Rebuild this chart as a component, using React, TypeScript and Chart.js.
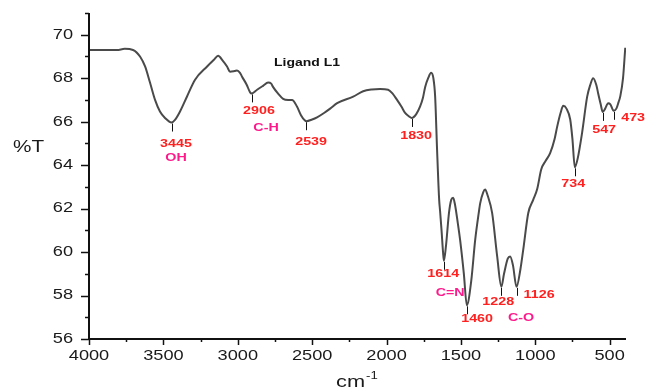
import React, { useEffect, useRef } from "react";
import { Chart, registerables } from "chart.js";

Chart.register(...registerables);

// ---- Data ----
const wavenumber = [
  4000, 3900, 3812, 3760, 3704, 3657, 3623, 3590, 3556, 3523, 3489, 3445, 3422, 3388, 3341, 3287, 3206, 3160, 3132,
  3100, 3072, 3052, 3020, 3005, 2985, 2971, 2940, 2917, 2906, 2870, 2830, 2796, 2775, 2763, 2730, 2695, 2660, 2635, 2602, 2575,
  2548, 2539, 2500, 2467, 2420, 2379, 2332, 2224, 2157, 2100, 2043, 1989, 1960, 1929, 1900, 1875, 1850, 1830, 1800, 1774,
  1755, 1740, 1720, 1700, 1685, 1673, 1660, 1646, 1640, 1630, 1620, 1614, 1600, 1580, 1565, 1552, 1540, 1520, 1505, 1480,
  1460, 1430, 1404, 1380, 1370, 1350, 1337, 1320, 1290, 1256, 1228, 1210, 1185, 1169, 1150, 1126, 1100, 1081, 1047, 1014,
  987, 960, 930, 900, 870, 853, 830, 812, 790, 765, 750, 734, 715, 685, 651, 630, 611, 590, 577, 560,
  547, 530, 510, 495, 473, 455, 440, 429, 410, 395,
];
const transmittance = [
  69.3, 69.3, 69.3, 69.35, 69.3, 69.0, 68.54, 67.8, 67.0, 66.47, 66.17, 65.96, 66.08, 66.47, 67.16, 67.93, 68.54, 68.85, 69.03,
  68.8, 68.54, 68.3, 68.33, 68.35, 68.25, 68.07, 67.7, 67.35, 67.3, 67.47, 67.65, 67.8, 67.75, 67.6, 67.3, 67.05, 67.0, 67.0, 66.7, 66.3,
  66.05, 66.02, 66.1, 66.2, 66.4, 66.6, 66.85, 67.15, 67.4, 67.48, 67.5, 67.47, 67.3, 67.0, 66.7, 66.4, 66.25, 66.17, 66.35, 66.7,
  67.1, 67.6, 68.0, 68.25, 68.0, 67.15, 64.7, 62.4, 61.9, 61.0, 60.0, 59.6, 60.3, 61.8, 62.4, 62.5, 62.2, 61.3, 60.55, 59.0,
  57.55, 58.7, 60.55, 61.8, 62.25, 62.75, 62.88, 62.6, 61.8, 59.8, 58.4, 59.0, 59.7, 59.8, 59.4, 58.4, 59.2, 60.1, 61.8, 62.4,
  62.9, 63.8, 64.2, 64.55, 65.2, 65.76, 66.4, 66.73, 66.6, 66.1, 65.2, 63.9, 64.3, 65.5, 67.15, 67.7, 68.0, 67.7, 67.3, 66.8,
  66.45, 66.6, 66.85, 66.8, 66.5, 66.6, 66.9, 67.15, 68.0, 69.4,
];

const peakWavenumbers = [3445, 2906, 2539, 1830, 1614, 1460, 1228, 1126, 734, 547, 473];

// annotation text: label, position (wavenumber, %T), kind
const labelTexts = ["3445", "OH", "2906", "C-H", "2539", "1830", "1614", "C=N", "1460", "1228", "1126", "C-O", "734", "547", "473"];
const labelX = [3415, 3415, 2857, 2810, 2507, 1801, 1619, 1572, 1391, 1249, 974, 1095, 745, 537, 342];
const labelY = [64.98, 64.33, 66.5, 65.71, 65.07, 65.32, 58.99, 58.11, 56.91, 57.7, 58.02, 56.98, 63.13, 65.6, 66.18];
const labelKind = ["num", "grp", "num", "grp", "num", "num", "num", "grp", "num", "num", "num", "grp", "num", "num", "num"];

const yTicks = [56, 58, 60, 62, 64, 66, 68, 70];
const xTicks = [4000, 3500, 3000, 2500, 2000, 1500, 1000, 500];

const FONT = "'Liberation Sans', Arial, sans-serif";
const STRETCH = 1.3;

function sText(
  ctx: CanvasRenderingContext2D,
  text: string,
  x: number,
  y: number,
  align: "left" | "center" | "right",
  font: string,
  color: string,
  sx = STRETCH
) {
  ctx.save();
  ctx.font = font;
  ctx.fillStyle = color;
  ctx.textBaseline = "middle";
  ctx.textAlign = "left";
  const w = ctx.measureText(text).width * sx;
  let left = x;
  if (align === "center") left = x - w / 2;
  else if (align === "right") left = x - w;
  ctx.translate(left, y);
  ctx.scale(sx, 1);
  ctx.fillText(text, 0, 0);
  ctx.restore();
}

function curveAt(xv: number) {
  for (let i = 0; i < wavenumber.length - 1; i++) {
    const a = wavenumber[i], b = wavenumber[i + 1];
    if (xv <= a && xv >= b) {
      const t = (a - xv) / (a - b);
      return transmittance[i] + t * (transmittance[i + 1] - transmittance[i]);
    }
  }
  return transmittance[transmittance.length - 1];
}

const irPlugin = {
  id: "irDecor",
  afterDraw(chart: any) {
    const { ctx, chartArea } = chart;
    const { left, right, top, bottom } = chartArea;
    const xs = chart.scales.x;
    const ys = chart.scales.y;
    ctx.save();
    // axes
    ctx.strokeStyle = "#111";
    ctx.lineWidth = 2;
    ctx.beginPath();
    ctx.moveTo(left, top);
    ctx.lineTo(left, bottom);
    ctx.lineTo(right, bottom);
    ctx.stroke();

    ctx.lineWidth = 1.5;
    // y ticks (major + minor)
    for (let v = 56; v <= 71; v++) {
      const py = Math.round(ys.getPixelForValue(v)) + 0.5;
      const len = v % 2 === 0 ? 8 : 4;
      ctx.beginPath();
      ctx.moveTo(left - len, py);
      ctx.lineTo(left, py);
      ctx.stroke();
    }
    yTicks.forEach((v) => {
      sText(ctx, String(v), left - 16, ys.getPixelForValue(v), "right", `14px ${FONT}`, "#1a1a1a");
    });
    // x ticks (major + minor)
    for (let v = 4000; v >= 500; v -= 250) {
      const px = Math.round(xs.getPixelForValue(v)) + 0.5;
      const len = v % 500 === 0 ? 6 : 3;
      ctx.beginPath();
      ctx.moveTo(px, bottom);
      ctx.lineTo(px, bottom + len);
      ctx.stroke();
    }
    xTicks.forEach((v) => {
      sText(ctx, String(v), xs.getPixelForValue(v), bottom + 17, "center", `14px ${FONT}`, "#1a1a1a");
    });

    // axis titles
    sText(ctx, "%T", 13, 147, "left", `17px ${FONT}`, "#1a1a1a", 1.22);
    sText(ctx, "cm", 336, 383, "left", `16px ${FONT}`, "#1a1a1a", 1.36);
    sText(ctx, "-1", 366, 376, "left", `11px ${FONT}`, "#1a1a1a", 1.2);

    // chart title inside plot
    sText(ctx, "Ligand L1", xs.getPixelForValue(2534), ys.getPixelForValue(68.7), "center", `bold 11px ${FONT}`, "#111", 1.27);

    // peak markers
    ctx.strokeStyle = "#111";
    ctx.lineWidth = 1;
    peakWavenumbers.forEach((w) => {
      const px = Math.round(xs.getPixelForValue(w)) + 0.5;
      const py = ys.getPixelForValue(curveAt(w));
      ctx.beginPath();
      ctx.moveTo(px, py + 1);
      ctx.lineTo(px, py + 9);
      ctx.stroke();
    });

    // peak labels
    labelTexts.forEach((t, i) => {
      const color = labelKind[i] === "num" ? "#ff2020" : "#ff1a8c";
      sText(ctx, t, xs.getPixelForValue(labelX[i]), ys.getPixelForValue(labelY[i]), "center", `bold 11px ${FONT}`, color, 1.3);
    });
    ctx.restore();
  },
};

export default function App() {
  const ref = useRef<HTMLCanvasElement | null>(null);
  useEffect(() => {
    if (!ref.current) return;
    const points = wavenumber.map((w, i) => ({ x: w, y: transmittance[i] }));
    const chart = new Chart(ref.current, {
      type: "line",
      data: {
        datasets: [
          {
            data: points,
            borderColor: "#4a4a4a",
            borderWidth: 2,
            pointRadius: 0,
            cubicInterpolationMode: "monotone",
            fill: false,
          },
        ],
      },
      options: {
        animation: false,
        responsive: true,
        maintainAspectRatio: false,
        layout: { padding: { top: 13, right: 20, left: 0, bottom: 0 } },
        plugins: { legend: { display: false }, tooltip: { enabled: false }, title: { display: false } },
        scales: {
          x: {
            type: "linear",
            reverse: true,
            min: 390,
            max: 4000,
            grid: { display: false },
            border: { display: false },
            ticks: { display: false },
            afterFit: (s: any) => {
              s.height = 50;
            },
          },
          y: {
            type: "linear",
            min: 56,
            max: 71,
            grid: { display: false },
            border: { display: false },
            ticks: { display: false },
            afterFit: (s: any) => {
              s.width = 89;
            },
          },
        },
      },
      plugins: [irPlugin],
    });
    return () => chart.destroy();
  }, []);
  return (
    <div style={{ position: "fixed", left: 0, top: 0, width: 646, height: 389, background: "#fff" }}>
      <canvas ref={ref} />
    </div>
  );
}
